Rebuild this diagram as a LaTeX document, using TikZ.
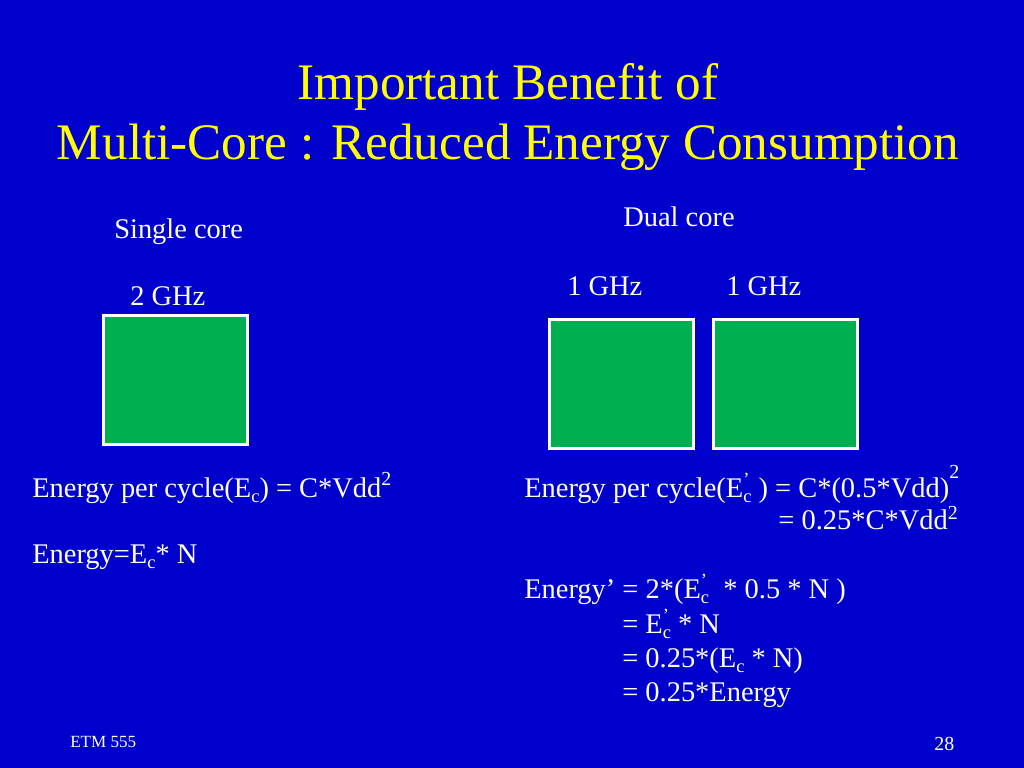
\documentclass[tikz,border=0pt]{standalone}
\usepackage{fontspec}
\setmainfont{Liberation Serif}
\definecolor{slideblue}{HTML}{0000CC}
\definecolor{coregreen}{HTML}{00B050}
\definecolor{titleyellow}{HTML}{FFFF00}
\usetikzlibrary{positioning}
\newcommand{\lowc}{\raisebox{-0.2em}{\fontsize{13}{13}\selectfont c}}
\newcommand{\supr}[2]{\raisebox{#1}{\fontsize{14}{14}\selectfont #2}}
\newcommand{\Ecp}{E\rlap{\raisebox{0.42em}{\fontsize{13}{13}\selectfont ’}}\lowc}

\begin{document}
\begin{tikzpicture}[x=0.703125pt, y=-0.703125pt,
  every node/.style={font=\fontsize{20}{24}\selectfont, text=white, inner sep=0pt},
  txt/.style={anchor=base west},
  core/.style={draw=white, line width=2.1pt, fill=coregreen, minimum width=101.2pt, minimum height=90.7pt}]
  % slide background
  \fill[slideblue] (0,0) rectangle (1024,768);
  \useasboundingbox (0,0) rectangle (1024,768);
  % title
  \node[anchor=base, text=titleyellow, font=\fontsize{36}{42}\selectfont] (title1) at (508,100) {Important Benefit of};
  \node[anchor=base, text=titleyellow, font=\fontsize{36}{42}\selectfont] (title2) at (508,160) {Multi-Core : Reduced Energy Consumption};
  % single core
  \node[txt] (single) at (114,239) {Single core};
  \node[txt] (f2) at (130,306) {2 GHz};
  \node[core] (core1) at (175.5,380) {};
  % dual core
  \node[txt] (dual) at (623,227) {Dual core};
  \node[txt] (f1a) at (567,296) {1 GHz};
  \node[txt] (f1b) at (726,296) {1 GHz};
  \node[core] (core2a) at (621.5,384) {};
  \node[core, right=12pt of core2a] (core2b) {};
  % energy, single core
  \node[txt] (esingle) at (32,497) {Energy per cycle(E\lowc) = C*Vdd\supr{8.4pt}{2}};
  \node[txt] (etotal) at (32,563) {Energy=E\lowc* N};
  % energy, dual core
  \node[txt] (edual) at (524,497) {Energy per cycle(\Ecp\ ) = C*(0.5*Vdd)\supr{13pt}{2}};
  \node[anchor=base east] (edual2) at (958,529) {= 0.25*C*Vdd\supr{7pt}{2}};
  \node[txt] (etot1) at (524,598) {Energy’ = 2*(\Ecp\ \ * 0.5 * N )};
  \node[txt] (etot2) at (622,633) {= \Ecp\ * N};
  \node[txt] (etot3) at (622,667) {= 0.25*(E\lowc\ * N)};
  \node[txt] (etot4) at (622,701) {= 0.25*Energy};
  % footer
  \node[txt, font=\fontsize{12}{14}\selectfont] (course) at (70,747) {ETM 555};
  \node[txt, font=\fontsize{14}{16}\selectfont] (page) at (934,750) {28};
\end{tikzpicture}
\end{document}
